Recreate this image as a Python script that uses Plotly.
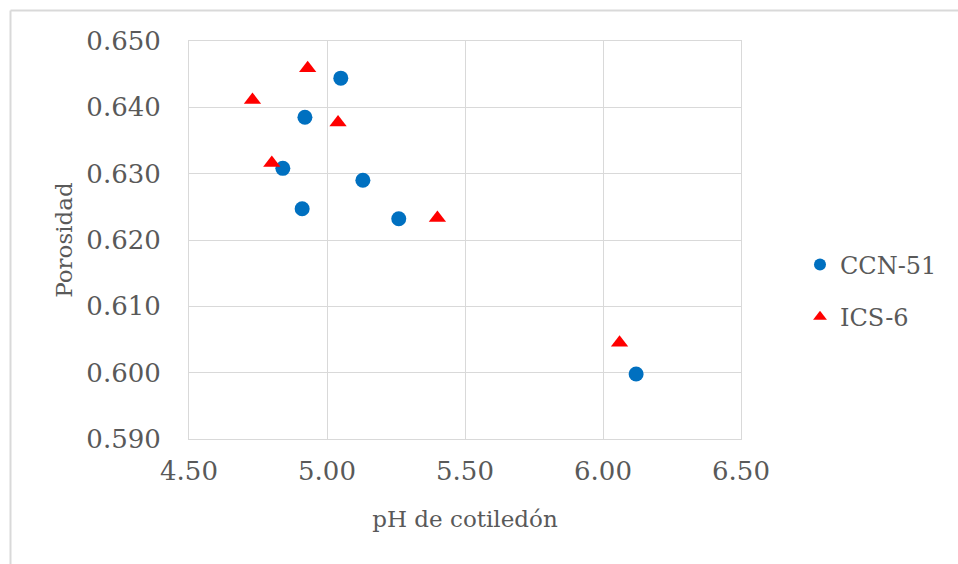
import plotly.graph_objects as go

ccn_ph = [5.05, 4.92, 4.84, 5.13, 4.91, 5.26, 6.12]
ccn_por = [0.6444, 0.6385, 0.6308, 0.6290, 0.6247, 0.6232, 0.5998]
ics_ph = [4.93, 4.73, 5.04, 4.80, 5.40, 6.06]
ics_por = [0.6459, 0.6411, 0.6377, 0.6316, 0.6233, 0.6045]

x_ticks = [4.5, 5.0, 5.5, 6.0, 6.5]
y_ticks = [0.59, 0.60, 0.61, 0.62, 0.63, 0.64, 0.65]

font_family = "DejaVu Serif"
grey = "#595959"
grid = "#d9d9d9"

fig = go.Figure()
fig.add_trace(go.Scatter(x=ccn_ph, y=ccn_por, mode="markers", name="CCN-51", legendgroup="a",
                         marker=dict(symbol="circle", size=15, color="#0070c0")))
fig.add_trace(go.Scatter(x=ics_ph, y=ics_por, mode="markers", name="ICS-6", legendgroup="b",
                         marker=dict(symbol="triangle-up", size=15, color="#ff0000")))

L, R, T, B = 189, 217, 41, 125
W, H = 958, 564
pw, ph = W - L - R, H - T - B

def px(xp):
    return (xp - L) / pw

def py(yp):
    return (H - B - yp) / ph

fig.update_layout(
    width=W, height=H,
    margin=dict(l=L, r=R, t=T, b=B, pad=0),
    paper_bgcolor="white", plot_bgcolor="white",
    font=dict(family=font_family, color=grey, size=26),
    showlegend=True,
    legend=dict(x=px(800), y=py(291), xanchor="left", yanchor="middle",
                font=dict(size=24, color=grey, family=font_family),
                itemsizing="constant", traceorder="grouped", tracegroupgap=18, itemwidth=30,
                bgcolor="rgba(0,0,0,0)"),
    xaxis=dict(range=[4.5, 6.5], tickvals=x_ticks, ticktext=[f"{v:.2f}" for v in x_ticks],
               showgrid=True, gridcolor=grid, gridwidth=1, zeroline=False,
               showline=True, linecolor=grid, linewidth=1, mirror=True,
               ticks="", ticklabelstandoff=9, tickfont=dict(size=26, color=grey, family=font_family),
               title=dict(text="pH de cotiledón", font=dict(size=23, color=grey, family=font_family),
                          standoff=25)),
    yaxis=dict(range=[0.59, 0.65], tickvals=y_ticks, ticktext=[f"{v:.3f}" for v in y_ticks],
               showgrid=True, gridcolor=grid, gridwidth=1, zeroline=False,
               showline=True, linecolor=grid, linewidth=1, mirror=True,
               ticks="", ticklabelstandoff=22, tickfont=dict(size=26, color=grey, family=font_family),
               title=dict(text="Porosidad", font=dict(size=23, color=grey, family=font_family),
                          standoff=7)),
)

fig.add_shape(type="line", xref="paper", yref="paper", x0=px(10.5), x1=px(W), y0=py(10.5), y1=py(10.5),
              line=dict(color=grid, width=2), layer="below")
fig.add_shape(type="line", xref="paper", yref="paper", x0=px(10.5), x1=px(10.5), y0=py(10.5), y1=py(H),
              line=dict(color=grid, width=2), layer="below")

fig.write_html("out.html")
